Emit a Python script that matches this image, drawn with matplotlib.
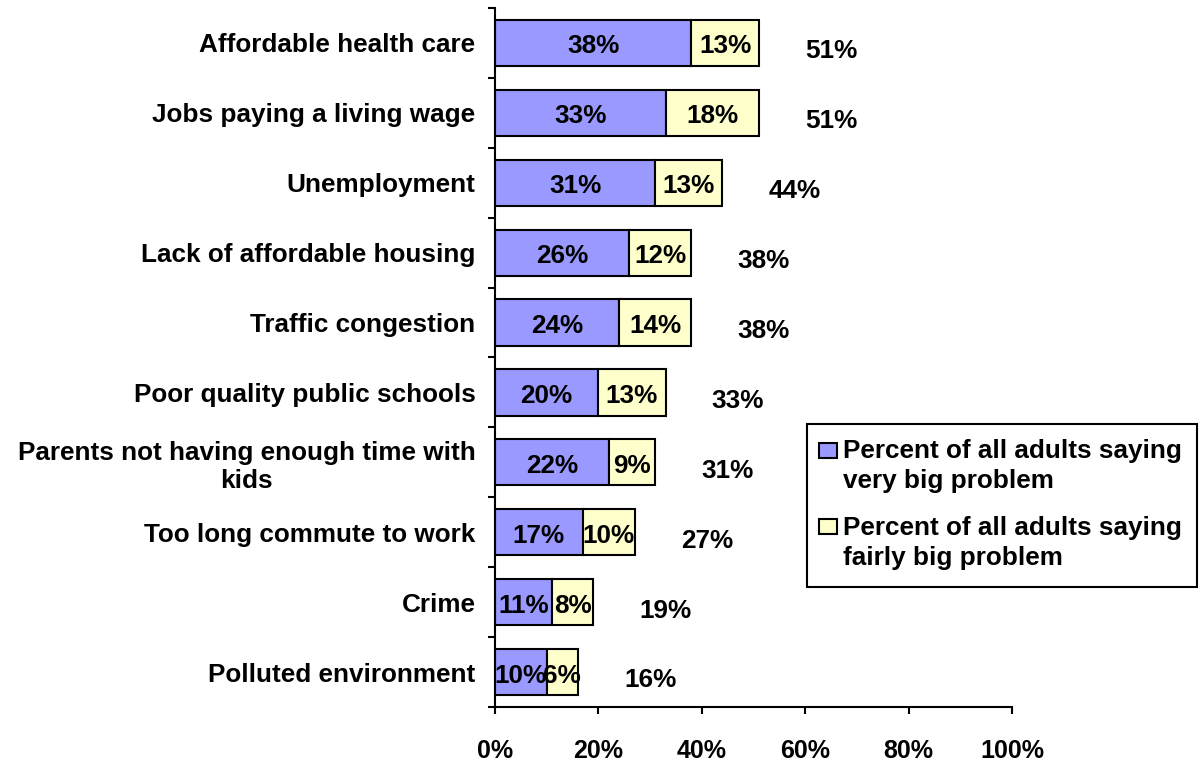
import numpy as np
import matplotlib

matplotlib.use("Agg")
import matplotlib.pyplot as plt  # noqa: E402
from matplotlib.patches import Rectangle  # noqa: E402
from matplotlib.legend_handler import HandlerPatch  # noqa: E402

# -------------------------------
# Data
# -------------------------------
categories = [
    "Affordable health care",
    "Jobs paying a living wage",
    "Unemployment",
    "Lack of affordable housing",
    "Traffic congestion",
    "Poor quality public schools",
    "Parents not having enough time with\nkids",
    "Too long commute to work",
    "Crime",
    "Polluted environment",
]
very_big = [38, 33, 31, 26, 24, 20, 22, 17, 11, 10]
fairly_big = [13, 18, 13, 12, 14, 13, 9, 10, 8, 6]
totals = [51, 51, 44, 38, 38, 33, 31, 27, 19, 16]
series_names = [
    "Percent of all adults saying\nvery big problem",
    "Percent of all adults saying\nfairly big problem",
]
x_ticks = [0, 20, 40, 60, 80, 100]

PURPLE = "#9999FF"
YELLOW = "#FFFFCC"
FS = 18.8
W, H = 1199, 765

plt.rcParams["font.family"] = ["Liberation Sans", "DejaVu Sans"]
plt.rcParams["font.weight"] = "bold"


def first_line_patch(legend, orig_handle, xdescent, ydescent, width, height, fontsize):
    # put the legend square next to the first line of a two-line label
    return Rectangle((-xdescent, -ydescent + 0.62 * fontsize), width, height)


fig = plt.figure(figsize=(W / 100, H / 100), dpi=100)
ax = fig.add_axes([495 / W, 1 - 707 / H, 517 / W, 699 / H])

y = np.arange(len(categories))
bar_h = 0.66
b1 = ax.barh(y, very_big, height=bar_h, color=PURPLE, edgecolor="black",
             linewidth=1.5)
b2 = ax.barh(y, fairly_big, left=very_big, height=bar_h, color=YELLOW,
             edgecolor="black", linewidth=1.5)

# segment labels
for i in range(len(categories)):
    ax.text(very_big[i] / 2, y[i] + 0.05, f"{very_big[i]}%", ha="center",
            va="center", fontsize=FS, fontweight="bold")
    ax.text(very_big[i] + fairly_big[i] / 2, y[i] + 0.05, f"{fairly_big[i]}%",
            ha="center", va="center", fontsize=FS, fontweight="bold")
    # totals sit a bit to the right of each bar
    ax.text(totals[i] + 14, y[i] + 0.12, f"{totals[i]}%", ha="center",
            va="center", fontsize=FS, fontweight="bold")

ax.set_xlim(0, 100)
ax.set_ylim(len(categories) - 0.5, -0.5)
ax.set_xticks(x_ticks)
ax.set_xticklabels([f"{t}%" for t in x_ticks], fontsize=FS - 0.8, fontweight="bold")
ax.set_yticks(y)
ax.set_yticklabels(categories, fontsize=FS, fontweight="bold")
for lbl in ax.get_yticklabels():
    lbl.set_multialignment("center")
ax.set_yticks(np.arange(len(categories) + 1) - 0.5, minor=True)

ax.tick_params(axis="y", which="major", length=0, pad=14)
ax.tick_params(axis="y", which="minor", length=5, width=1.5, direction="out")
ax.tick_params(axis="x", which="major", length=5, width=1.5, direction="out", pad=18)

for side in ["top", "right"]:
    ax.spines[side].set_visible(False)
for side in ["left", "bottom"]:
    ax.spines[side].set_linewidth(1.5)

# legend without its own frame; the box is drawn separately so the
# horizontal and vertical padding can differ like in the original
handles = [b1.patches[0], b2.patches[0]]
leg = fig.legend(
    handles,
    series_names,
    loc="upper left",
    bbox_to_anchor=(801 / W, 1 - 421 / H),
    fontsize=FS,
    frameon=False,
    handlelength=0.68,
    handleheight=0.52,
    handletextpad=0.23,
    borderpad=0.7,
    labelspacing=0.85,
    borderaxespad=0,
    handler_map={Rectangle: HandlerPatch(patch_func=first_line_patch)},
)
for t in leg.get_texts():
    t.set_fontweight("bold")
    t.set_linespacing(1.32)

fig.patches.append(Rectangle((807 / W, 1 - 587 / H), 390 / W, 163 / H,
                             transform=fig.transFigure, fill=False,
                             edgecolor="black", linewidth=1.5, zorder=5))

fig.savefig("out.png", dpi=100)
